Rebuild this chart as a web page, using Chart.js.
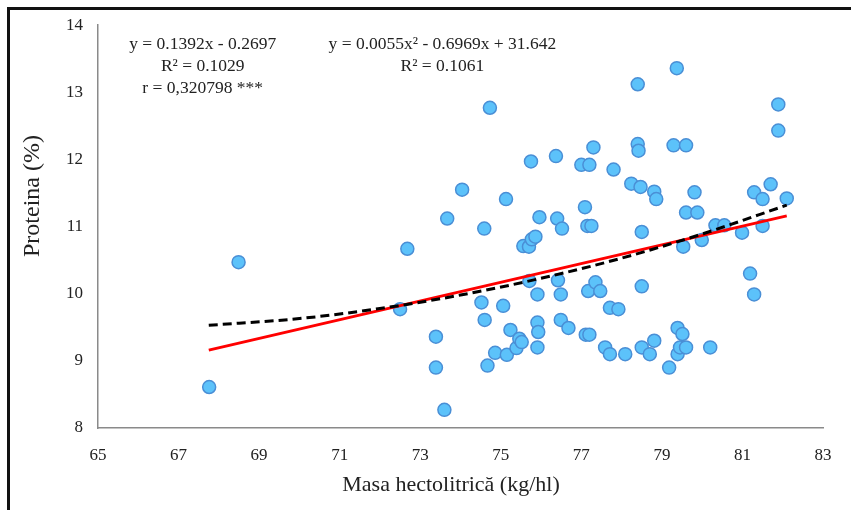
<!DOCTYPE html>
<html>
<head>
<meta charset="utf-8">
<script src="https://cdn.jsdelivr.net/npm/chart.js@4.4.0/dist/chart.umd.min.js"></script>
<style>
  html, body { margin: 0; padding: 0; background: #fff; }
  #wrap { position: relative; width: 851px; height: 510px; }
  #frame { position: absolute; left: 7px; top: 7px; right: 0; bottom: 0;
           border-top: 3px solid #111; border-left: 3px solid #111; pointer-events: none; }
  canvas { position: absolute; left: 0; top: 0; }
</style>
</head>
<body>
<div id="wrap">
  <canvas id="chart" width="851" height="510"></canvas>
  <div id="frame"></div>
</div>
<script>
// masa hectolitrica (kg/hl) vs proteina (%)
const masaX = [67.76, 68.49, 72.50, 72.68, 73.39, 73.39, 73.60, 73.67, 74.04, 74.52,
  74.59, 74.60, 74.67, 74.73, 74.86, 75.06, 75.13, 75.15, 75.24, 75.39,
  75.46, 75.52, 75.56, 75.70, 75.71, 75.75, 75.77, 75.86, 75.91, 75.91,
  75.93, 75.91, 75.96, 76.37, 76.40, 76.42, 76.49, 76.49, 76.52, 76.68,
  77.00, 77.09, 77.11, 77.15, 77.17, 77.20, 77.20, 77.25, 77.30, 77.35,
  77.47, 77.59, 77.71, 77.71, 77.80, 77.92, 78.09, 78.24, 78.40, 78.40,
  78.42, 78.47, 78.50, 78.50, 78.50, 78.70, 78.81, 78.81, 78.86, 79.18,
  79.29, 79.37, 79.39, 79.39, 79.51, 79.45, 79.53, 79.60, 79.60, 79.60,
  79.81, 79.88, 79.99, 80.20, 80.33, 80.55, 80.99, 81.19, 81.29, 81.29,
  81.50, 81.50, 81.70, 81.89, 81.89, 82.10];
const proteinaY = [8.61, 10.47, 9.77, 10.67, 9.36, 8.90, 8.27, 11.12, 11.55, 9.87,
  10.97, 9.61, 8.93, 12.77, 9.12, 9.82, 11.41, 9.09, 9.46, 9.19,
  9.33, 9.28, 10.71, 10.70, 10.19, 11.97, 10.81, 10.85, 9.99, 9.57,
  9.43, 9.20, 11.14, 12.05, 11.12, 10.20, 9.99, 9.61, 10.97, 9.49,
  11.92, 11.29, 9.39, 11.01, 10.04, 11.92, 9.39, 11.01, 12.18, 10.17,
  10.04, 9.20, 9.79, 9.10, 11.85, 9.77, 9.10, 11.64, 13.12, 12.23,
  12.13, 11.59, 10.92, 10.11, 9.20, 9.10, 11.52, 9.30, 11.41, 8.90,
  12.21, 13.36, 9.49, 9.10, 9.40, 9.20, 10.70, 12.21, 11.21, 9.20,
  11.51, 11.21, 10.80, 9.20, 11.02, 11.02, 10.91, 10.30, 11.51, 9.99,
  11.41, 11.01, 11.63, 12.82, 12.43, 11.42];

// linear trend (red), read at both ends
const linX = [67.75, 82.1];
const linY = [9.16, 11.16];

// polynomial trend (dashed)
const polyX = [67.75, 70, 72, 74, 76, 78, 80, 82.1];
const polyY = [9.53, 9.63, 9.78, 9.98, 10.23, 10.53, 10.89, 11.32];

const xTicks = [65, 67, 69, 71, 73, 75, 77, 79, 81, 83];

// equation labels: [x, y, text]
const labels = [
  [67.6, 13.72, 'y = 0.1392x - 0.2697'],
  [67.6, 13.39, 'R\u00b2 = 0.1029'],
  [67.6, 13.06, 'r = 0,320798 ***'],
  [73.55, 13.72, 'y = 0.0055x\u00b2 - 0.6969x + 31.642'],
  [73.55, 13.39, 'R\u00b2 = 0.1061']
];
const xTitle = 'Masa hectolitrică (kg/hl)';
const yTitle = 'Proteina (%)';

const serif = "'Liberation Serif', 'Times New Roman', serif";

function toPts(xs, ys) {
  return xs.map((x, i) => ({ x: x, y: ys[i] }));
}

const textPlugin = {
  id: 'textLabels',
  afterDatasetsDraw(chart) {
    const ctx = chart.ctx;
    const sx = chart.scales.x, sy = chart.scales.y;
    ctx.save();
    ctx.fillStyle = '#222';
    ctx.textAlign = 'center';
    ctx.textBaseline = 'middle';
    ctx.font = '17.5px ' + serif;
    labels.forEach(l => {
      ctx.fillText(l[2], sx.getPixelForValue(l[0]), sy.getPixelForValue(l[1]));
    });
    // axis titles
    ctx.font = '22px ' + serif;
    ctx.fillText(xTitle, 451, 485);
    ctx.translate(33, 196);
    ctx.rotate(-Math.PI / 2);
    ctx.font = '24px ' + serif;
    ctx.fillText(yTitle, 0, 0);
    ctx.restore();
  }
};

new Chart(document.getElementById('chart'), {
  type: 'scatter',
  data: {
    datasets: [
      {
        label: 'Proteina',
        data: toPts(masaX, proteinaY),
        backgroundColor: '#5cc2fa',
        borderColor: '#4a8fd6',
        borderWidth: 1.5,
        pointRadius: 6.5,
        order: 3
      },
      {
        type: 'line',
        label: 'Liniar',
        data: toPts(linX, linY),
        borderColor: '#ff0000',
        borderWidth: 3,
        pointRadius: 0,
        fill: false,
        order: 2
      },
      {
        type: 'line',
        label: 'Polinomial',
        data: toPts(polyX, polyY),
        borderColor: '#000',
        borderWidth: 3,
        borderDash: [9, 5],
        pointRadius: 0,
        tension: 0.4,
        cubicInterpolationMode: 'monotone',
        fill: false,
        order: 1
      }
    ]
  },
  options: {
    responsive: false,
    animation: false,
    layout: { padding: { top: 23, right: 28, left: 0, bottom: 0 } },
    plugins: { legend: { display: false }, tooltip: { enabled: false } },
    scales: {
      x: {
        type: 'linear',
        min: 65, max: 83,
        afterBuildTicks: s => { s.ticks = xTicks.map(v => ({ value: v })); },
        afterFit: s => { s.height = 82; },
        grid: { display: false, drawTicks: false },
        border: { display: true, color: '#8a8a8a', width: 1.5 },
        ticks: { padding: 17, color: '#222', font: { family: serif, size: 17 } }
      },
      y: {
        min: 8, max: 14,
        ticks: { stepSize: 1, padding: 15, color: '#222', font: { family: serif, size: 17 } },
        afterFit: s => { s.width = 98; },
        grid: { display: false, drawTicks: false },
        border: { display: true, color: '#8a8a8a', width: 1.5 }
      }
    }
  },
  plugins: [textPlugin]
});
</script>
</body>
</html>
